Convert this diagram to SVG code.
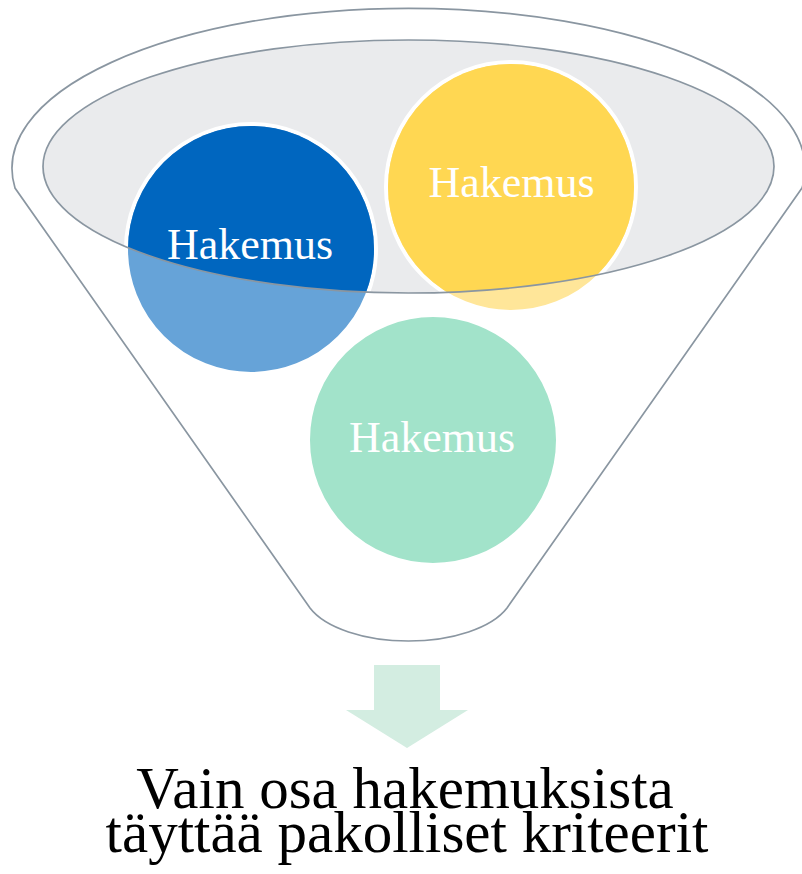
<svg xmlns="http://www.w3.org/2000/svg" width="802" height="874" viewBox="0 0 802 874">
<style>
.line{stroke:#8A96A1;stroke-width:1.7;}
.node{stroke:#FFFFFF;stroke-width:4;}
.lbl{font-family:"Liberation Serif","DejaVu Serif",serif;font-size:44px;fill:#FFFFFF;text-anchor:middle;}
.cap{font-family:"Liberation Serif","DejaVu Serif",serif;font-size:59px;fill:#000000;text-anchor:middle;}
</style>
<defs>
<clipPath id="inner"><ellipse cx="408.5" cy="166.5" rx="365.5" ry="126.5"/></clipPath>
</defs>
<rect width="802" height="874" fill="#FFFFFF"/>
<g id="funnel">
<path class="line" fill="#FFFFFF" d="M15,188 A396.5,160 0 1 1 802,188 L507,608 A105,50.5 0 0 1 310,608 Z"/>
<ellipse cx="408.5" cy="166.5" rx="365.5" ry="126.5" fill="#EAEBED"/>
</g>
<g id="node-blue">
<circle class="node" cx="251" cy="249" r="125" fill="#66A3D8"/>
<circle cx="251" cy="249" r="123" fill="#0066BF" clip-path="url(#inner)"/>
<text class="lbl" x="250" y="259">Hakemus</text>
</g>
<g id="node-yellow">
<circle class="node" cx="511" cy="187" r="125" fill="#FFE699"/>
<circle cx="511" cy="187" r="123" fill="#FFD752" clip-path="url(#inner)"/>
<text class="lbl" x="511.5" y="197">Hakemus</text>
</g>
<g id="node-green">
<circle class="node" cx="433" cy="440" r="125" fill="#A2E3CA"/>
<text class="lbl" x="432" y="452">Hakemus</text>
</g>
<g id="funnel-rim">
<ellipse class="line" cx="408.5" cy="166.5" rx="365.5" ry="126.5" fill="none"/>
</g>
<g id="connectors">
<polygon fill="#D3EDE1" points="374,665 440,665 440,710 468,710 407,748 346,710 374,710"/>
</g>
<g id="caption">
<text class="cap"><tspan x="405" y="807.5">Vain osa hakemuksista</tspan><tspan x="407" y="852">täyttää pakolliset kriteerit</tspan></text>
</g>
</svg>
